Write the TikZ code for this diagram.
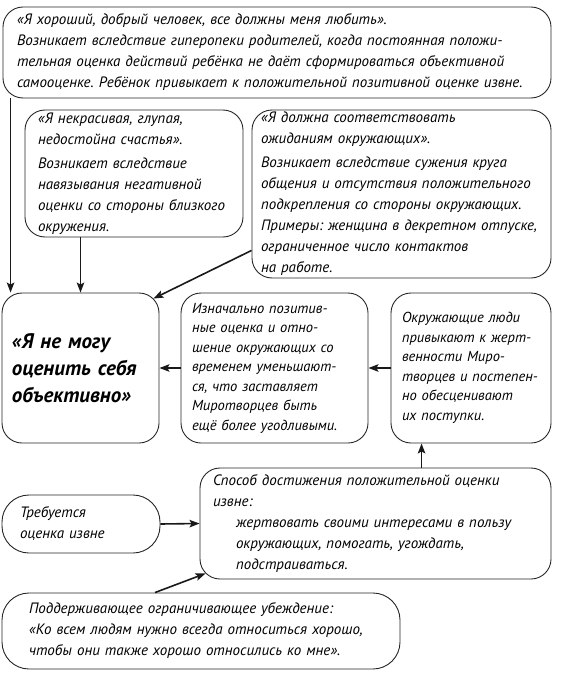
\documentclass[tikz,border=0pt]{standalone}
\usepackage{fontspec}
\setmainfont{PT Sans}
\usetikzlibrary{arrows.meta}
\begin{document}
\frenchspacing
\begin{tikzpicture}[x=1pt,y=1pt]
                  \tikzstyle{every node}+=[inner sep=0pt]
                  \tikzstyle{box}=[draw=black!85, line width=0.9pt, rounded corners=20pt, align=left, text=black, font=\itshape\fontsize{15}{21}\selectfont]
                  \tikzstyle{pill}=[box, rounded corners=27pt]
                  \tikzstyle{arr}=[draw=black!90, line width=1.6pt, -{Stealth[length=10pt,width=7.5pt,inset=2pt]}]
                  \useasboundingbox (0,0) rectangle (561,-677);
                  \node [box, minimum width=548, minimum height=91, text width=520] (pos) at (277,-52.5) {«Я хороший, добрый человек, все должны меня любить».\\Возникает вследствие гиперопеки родителей, когда постоянная положи-\\тельная оценка действий ребёнка не даёт сформироваться объективной\\самооценке. Ребёнок привыкает к положительной позитивной оценке извне.};
                  \node [box, minimum width=218, minimum height=127, text width=192] (nsc) at (134,-173.5) {«Я некрасивая, глупая,\\недостойна счастья».\\[3pt]Возникает вследствие\\навязывания негативной\\оценки со стороны близкого\\окружения.};
                  \node [box, minimum width=299, minimum height=168, text width=281] (soot) at (401.5,-194) {«Я должна соответствовать\\ожиданиям окружающих».\\[3pt]Возникает вследствие сужения круга\\общения и отсутствия положительного\\подкрепления со стороны окружающих.\\Примеры: женщина в декретном отпуске,\\ограниченное число контактов\\на работе.};
                  \node [box, minimum width=157, minimum height=150, text width=137, font=\bfseries\itshape\fontsize{21}{27}\selectfont] (main) at (80.5,-368) {«Я не могу\\оценить себя\\объективно»};
                  \node [box, minimum width=187, minimum height=150, text width=165, font=\itshape\fontsize{14.5}{19.5}\selectfont] (mid) at (274.5,-368) {Изначально позитив-\\ные оценка и отно-\\шение окружающих со\\временем уменьшают-\\ся, что заставляет\\Миротворцев быть\\ещё более угодливыми.};
                  \node [box, minimum width=160, minimum height=150, text width=138, font=\itshape\fontsize{14.5}{19.5}\selectfont] (rgt) at (471,-368) {Окружающие люди\\привыкают к жерт-\\венности Миро-\\творцев и постепен-\\но обесценивают\\их поступки.};
                  \node [pill, minimum width=158, minimum height=58, text width=122] (treb) at (81,-524) {Требуется\\оценка извне};
                  \node [box, minimum width=351, minimum height=111, text width=325] (spos) at (375.5,-523.5) {Способ достижения положительной оценки\\извне:\\\hspace*{23pt}жертвовать своими интересами в пользу\\\hspace*{23pt}окружающих, помогать, угождать,\\\hspace*{23pt}подстраиваться.};
                  \node [pill, minimum width=398, minimum height=76, text width=344] (podd) at (201,-631) {Поддерживающее ограничивающее убеждение:\\«Ко всем людям нужно всегда относиться хорошо,\\чтобы они также хорошо относились ко мне».};
                  \coordinate (up) at ([xshift=31]rgt.south west);
                  \draw [arr] ([xshift=8]pos.south west) -- ([xshift=9]main.north west);
                  \draw [arr] (nsc.south -| main.north) -- (main.north);
                  \draw [arr] ([yshift=28]soot.south west) -- ([shift={(-6,-6)}]main.north east);
                  \draw [arr] (mid.west) -- (main.east);
                  \draw [arr] (rgt.west) -- (mid.east);
                  \draw [arr] (up |- spos.north) -- (up);
                  \draw [arr] (treb.east) -- (spos.west);
                  \draw [arr] ([xshift=-46]podd.north) -- ([shift={(6,6)}]spos.south west);
              \end{tikzpicture}
\end{document}
